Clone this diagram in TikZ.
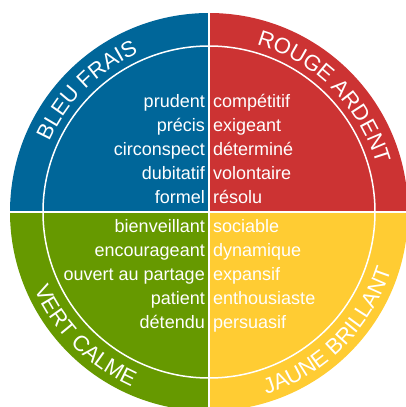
\documentclass[tikz,border=0pt]{standalone}
\usepackage{fontspec}
\setmainfont{Liberation Sans}
\usetikzlibrary{decorations.text}

\definecolor{bleufrais}{HTML}{006699}
\definecolor{rougeardent}{HTML}{CC3333}
\definecolor{vertcalme}{HTML}{669900}
\definecolor{jaunebrillant}{HTML}{FFCC33}

\begin{document}
\begin{tikzpicture}[x=1pt, y=1pt,
	% the word lists inside each quarter
	word/.style={
		text=white,
		inner sep=0pt,
		font=\fontsize{18}{24}\selectfont
		},
	% the colour names, set along the outer ring
	ringlabel/.style={
		decorate,
		decoration={text along path, text align=center, text color=white,
			text={|\fontsize{22}{22}\selectfont|#1}}
		},
	divider/.style={draw=white, line width=2pt}]

	\useasboundingbox (-209,-195) rectangle (197,212);
	\clip (-209,-195) rectangle (197,212);

	% the four quarters
	\fill[bleufrais] (0,0) -- (90:199) arc[start angle=90, end angle=180, radius=199] -- cycle;
	\fill[rougeardent] (0,0) -- (0:199) arc[start angle=0, end angle=90, radius=199] -- cycle;
	\fill[vertcalme] (0,0) -- (180:199) arc[start angle=180, end angle=270, radius=199] -- cycle;
	\fill[jaunebrillant] (0,0) -- (270:199) arc[start angle=270, end angle=360, radius=199] -- cycle;

	% inner ring and the cross
	\draw[white, line width=1.5pt] (0,0) circle[radius=166];
	\coordinate (top) at (90:205);
	\coordinate (bottom) at (270:205);
	\coordinate (left) at (180:205);
	\coordinate (right) at (0:205);
	\path[divider] (top) -- (bottom);
	\path[divider] (left) -- (right);

	% names on the ring
	\path[ringlabel={BLEU FRAIS}] (180:174) arc[start angle=180, end angle=90, radius=174];
	\path[ringlabel={ROUGE ARDENT}] (90:174) arc[start angle=90, end angle=0, radius=174];
	\path[ringlabel={VERT CALME}] (180:191) arc[start angle=180, end angle=270, radius=191];
	\path[ringlabel={JAUNE BRILLANT}] (270:191) arc[start angle=270, end angle=360, radius=191];

	% word lists
	\foreach \w [count=\i] in {prudent,précis,circonspect,dubitatif,formel}
		\node (bleu\i) [word, anchor=base east] at (-4, 128.7-24*\i) {\w};
	\foreach \w [count=\i] in {compétitif,exigeant,déterminé,volontaire,résolu}
		\node (rouge\i) [word, anchor=base west] at (4, 128.7-24*\i) {\w};
	\foreach \w [count=\i] in {bienveillant,encourageant,ouvert au partage,patient,détendu}
		\node (vert\i) [word, anchor=base east] at (-4, 4-24*\i) {\w};
	\foreach \w [count=\i] in {sociable,dynamique,expansif,enthousiaste,persuasif}
		\node (jaune\i) [word, anchor=base west] at (4, 4-24*\i) {\w};

\end{tikzpicture}
\end{document}
